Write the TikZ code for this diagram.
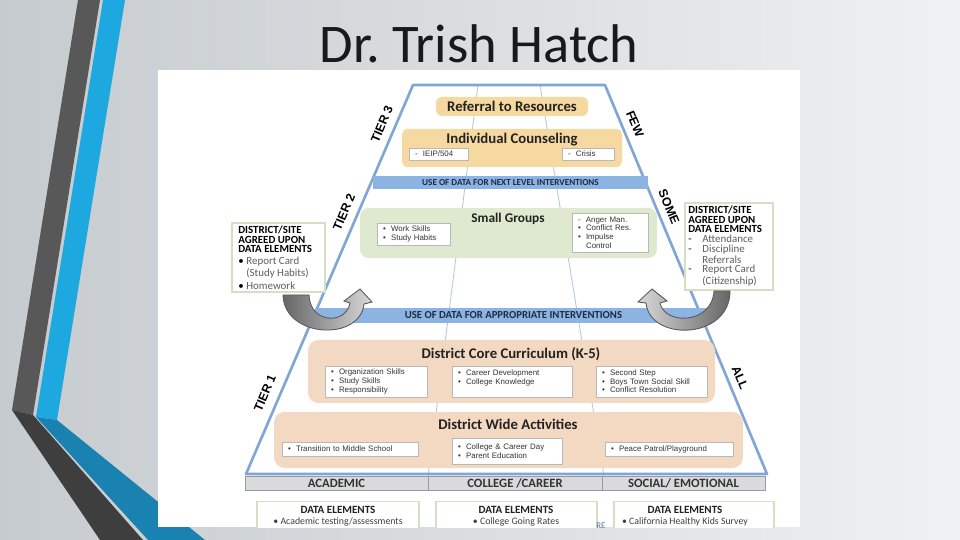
\documentclass[tikz,border=0pt]{standalone}
\usepackage{fontspec}
\setmainfont{Carlito}
\newfontfamily\arialfont{Liberation Sans}
\usetikzlibrary{positioning}
\frenchspacing

\newdimen\pxu \pxu=0.02cm

\definecolor{bgleft}{RGB}{198,203,207}
\definecolor{bgright}{RGB}{239,241,242}
\definecolor{stripegray}{RGB}{88,88,88}
\definecolor{stripedark}{RGB}{62,62,62}
\definecolor{stripeblue}{RGB}{30,168,224}
\definecolor{stripedeep}{RGB}{26,130,176}
\definecolor{pyrline}{RGB}{128,166,214}
\definecolor{bandblue}{RGB}{140,180,226}
\definecolor{bandtext}{RGB}{30,42,70}
\definecolor{goldbox}{RGB}{245,217,160}
\definecolor{greenbox}{RGB}{222,233,207}
\definecolor{peachbox}{RGB}{243,216,194}
\definecolor{barfill}{RGB}{216,218,221}
\definecolor{sideline}{RGB}{214,222,196}
\definecolor{itemgray}{RGB}{95,95,95}
\definecolor{titletext}{RGB}{34,34,34}

\newcommand{\slidetitle}{\fontsize{31}{36}\selectfont}
\newcommand{\boxhead}{\fontsize{8.4}{10}\selectfont\bfseries}
\newcommand{\itemtext}{\arialfont\fontsize{4.5}{4.9}\selectfont}
\newcommand{\tierlabel}{\arialfont\fontsize{7}{8}\selectfont\bfseries}
\newcommand{\calltext}{\fontsize{6.2}{5.3}\selectfont}
\newcommand{\barlabel}{\fontsize{7.2}{8}\selectfont\bfseries}
\newcommand{\sidemark}[2]{\makebox[#1][l]{#2}}

\tikzset{
  tierbox/.style={rounded corners=3pt, inner sep=0pt},
  boxtitle/.style={font=\boxhead, text=titletext, inner sep=0pt, anchor=base},
  subbox/.style={draw=black!28, fill=white, inner xsep=6\pxu, inner ysep=0pt,
    align=left, font=\itemtext, text=black!80},
  databand/.style={fill=bandblue, inner sep=0pt, text=bandtext},
  tier/.style={font=\tierlabel, inner sep=0pt},
  sidebox/.style={draw=sideline, fill=white, line width=0.6pt, inner sep=0pt},
  sidetext/.style={font=\calltext, align=left, inner sep=0pt, anchor=north west},
  colhead/.style={draw=black!40, fill=barfill, inner sep=0pt, minimum height=14\pxu,
    font=\barlabel, text=black!80},
  datacell/.style={draw=sideline, fill=white, line width=0.6pt, inner sep=0pt, anchor=north},
  datahead/.style={font=\fontsize{6.3}{7}\selectfont\bfseries, text=titletext, inner sep=0pt, anchor=base},
  dataitem/.style={font=\fontsize{5.6}{6}\selectfont, text=black!75, inner sep=0pt, anchor=base}
}

\begin{document}
\begin{tikzpicture}[x=1\pxu, y=-1\pxu]
% slide
\shade[left color=bgleft, right color=bgright] (0,0) rectangle (960,540);
\useasboundingbox (0,0) rectangle (960,540);

% side stripes
\fill[stripegray] (78,0) -- (100,0) -- (33,415) -- (12,410) -- cycle;
\fill[stripedark] (12,410) -- (33,415) -- (143,540) -- (100,540) -- cycle;
\fill[stripeblue] (103,0) -- (125,0) -- (57,420) -- (36,417) -- cycle;
\fill[stripedeep] (36,417) -- (57,420) -- (205,540) -- (148,540) -- cycle;

% picture panel
\fill[white] (158,70) rectangle (800,527);
\node[font=\slidetitle, text=black!90, anchor=base, inner sep=0pt] (title) at (479,63) {Dr. Trish Hatch};

% pyramid frame
\coordinate (topL) at (413,85);
\coordinate (topR) at (605,85);
\coordinate (baseL) at (246,474);
\coordinate (baseR) at (767,474);
\draw[pyrline!60, line width=0.5pt] (478,85) -- (428,476) (540,85) -- (604,476);
\draw[pyrline, line width=1.5pt, line join=round] (baseL) -- (topL) -- (topR) -- (baseR) -- cycle;

% tier 3
\node[tierbox, fill=goldbox, minimum width=152\pxu, minimum height=19\pxu] (referral) at (512,106.5) {};
\node[boxtitle] (referralT) at (512,112) {Referral to Resources};
\node[tierbox, fill=goldbox, minimum width=220\pxu, minimum height=38\pxu] (counsel) at (512,148) {};
\node[boxtitle] (counselT) at (512,144) {Individual Counseling};
\node[subbox, text width=47\pxu, minimum height=12\pxu] (iep) at (438.5,154) {-~~IEIP/504};
\node[subbox, text width=40\pxu, minimum height=12\pxu] (crisis) at (588,154) {-~~Crisis};
\node[databand, minimum width=275\pxu, minimum height=13\pxu, font=\fontsize{5.2}{6}\selectfont\bfseries] (nextband) at (510.5,182.5) {USE OF DATA FOR NEXT LEVEL INTERVENTIONS};

% tier 2
\node[tierbox, fill=greenbox, rounded corners=5pt, minimum width=297\pxu, minimum height=50\pxu] (groups) at (508.5,233) {};
\node[boxtitle, font=\fontsize{7.6}{9}\selectfont\bfseries] (groupsT) at (508,223) {Small Groups};
\node[subbox, text width=61\pxu, minimum height=22\pxu] (skills) at (413.5,234) {\textbullet~~Work Skills\\\textbullet~~Study Habits};
\node[subbox, text width=64\pxu, minimum height=39\pxu] (behavior) at (610,232.5) {-~~Anger Man.\\\textbullet~~Conflict Res.\\\textbullet~~Impulse\\\phantom{\textbullet~~}Control};
\node[databand, minimum width=397\pxu, minimum height=15\pxu, font=\fontsize{6.1}{7}\selectfont\bfseries] (apprband) at (513.5,315.5) {USE OF DATA FOR APPROPRIATE INTERVENTIONS};

% district / site data elements
\node[sidebox, minimum width=93\pxu, minimum height=69\pxu] (siteL) at (278.5,257.5) {};
\node[sidetext] (siteLT) at (238,226) {\textbf{DISTRICT/SITE}\\\textbf{AGREED UPON}\\\textbf{DATA ELEMENTS}\\[1.6pt]
  \sidemark{4.6pt}{\textbullet}\textcolor{itemgray}{Report Card}\\
  \hspace*{4.6pt}\textcolor{itemgray}{(Study Habits)}\\[1.2pt]
  \sidemark{4.6pt}{\textbullet}\textcolor{itemgray}{Homework}};
\node[sidebox, minimum width=88\pxu, minimum height=87\pxu] (siteR) at (729,246.5) {};
\node[sidetext] (siteRT) at (688,206) {\textbf{DISTRICT/SITE}\\\textbf{AGREED UPON}\\\textbf{DATA ELEMENTS}\\[0.6pt]
  \sidemark{8pt}{-}\textcolor{itemgray}{Attendance}\\
  \sidemark{8pt}{-}\textcolor{itemgray}{Discipline}\\
  \hspace*{8pt}\textcolor{itemgray}{Referrals}\\
  \sidemark{8pt}{-}\textcolor{itemgray}{Report Card}\\
  \hspace*{8pt}\textcolor{itemgray}{(Citizenship)}};

% u-turn arrows
\shadedraw[left color=black!60, right color=black!15, draw=black!65, line width=0.5pt]
  (283,295) .. controls (284,338) and (360,342) .. (364,304) -- (372,302) -- (360,289)
  -- (344,301) -- (350,303) .. controls (346,325) and (310,324) .. (309,295) -- cycle;
\shadedraw[left color=black!15, right color=black!60, draw=black!65, line width=0.5pt]
  (730,291) .. controls (730,340) and (650,342) .. (646,303) -- (638,302) -- (652,289)
  -- (667,301) -- (660,303) .. controls (664,325) and (712,325) .. (714,291) -- cycle;

% tier 1
\node[tierbox, fill=peachbox, rounded corners=6pt, minimum width=407\pxu, minimum height=63\pxu] (core) at (511.5,371.5) {};
\node[boxtitle] (coreT) at (511,358) {District Core Curriculum (K-5)};
\node[subbox, text width=90\pxu, minimum height=31\pxu] (orgskills) at (376,381.5) {\textbullet~~Organization Skills\\\textbullet~~Study Skills\\\textbullet~~Responsibility};
\node[subbox, text width=108\pxu, minimum height=31\pxu] (collegeprep) at (512,381.5) {\textbullet~~Career Development\\\textbullet~~College Knowledge\\~};
\node[subbox, text width=99\pxu, minimum height=31\pxu] (socialskills) at (651.5,381.5) {\textbullet~~Second Step\\\textbullet~~Boys Town Social Skill\\\textbullet~~Conflict Resolution};
\node[tierbox, fill=peachbox, rounded corners=6pt, minimum width=469\pxu, minimum height=56\pxu] (wide) at (508.5,440) {};
\node[boxtitle] (wideT) at (508,429) {District Wide Activities};
\node[subbox, text width=124\pxu, minimum height=14\pxu] (transition) at (350,449) {\textbullet~~Transition to Middle School};
\node[subbox, text width=98\pxu, minimum height=26\pxu] (careerday) at (507,451) {\textbullet~~College \& Career Day\\\textbullet~~Parent Education};
\node[subbox, text width=116\pxu, minimum height=14\pxu] (peace) at (669,449) {\textbullet~~Peace Patrol/Playground};

% tier labels
\node[tier, rotate=67] (tier3) at (382,124) {TIER 3};
\node[tier, rotate=-67] (few) at (635,124) {FEW};
\node[tier, rotate=67] (tier2) at (344,212) {TIER 2};
\node[tier, rotate=-67] (some) at (669,207) {SOME};
\node[tier, rotate=67] (tier1) at (265,393) {TIER 1};
\node[tier, rotate=-67] (all) at (740,378) {ALL};

% domains
\node[colhead, minimum width=183\pxu] (academic) at (336.5,483) {ACADEMIC};
\node[colhead, minimum width=174\pxu] (career) at (515,483) {COLLEGE /CAREER};
\node[colhead, minimum width=163\pxu] (social) at (683.5,483) {SOCIAL/ EMOTIONAL};

\begin{scope}
\clip (158,70) rectangle (800,527);
\node[datacell, minimum width=162\pxu, minimum height=40\pxu] (dataA) at (338,501) {};
\node[datacell, minimum width=161\pxu, minimum height=40\pxu] (dataB) at (516.5,501) {};
\node[datacell, minimum width=160\pxu, minimum height=40\pxu] (dataC) at (694,501) {};
\node[datahead] (dataAT) at (338,513) {DATA ELEMENTS};
\node[datahead] (dataBT) at (516,513) {DATA ELEMENTS};
\node[datahead] (dataCT) at (685,513) {DATA ELEMENTS};
\node[dataitem] (dataAI) at (338,524.5) {\textbullet\ Academic testing/assessments};
\node[dataitem] (dataBI) at (516,524.5) {\textbullet\ College Going Rates};
\node[dataitem] (dataCI) at (685,524.5) {\textbullet\ California Healthy Kids Survey};
\node[font=\fontsize{5}{5}\selectfont, text=pyrline!70!black, inner sep=0pt, anchor=base] (re) at (601,528) {RE};
\end{scope}
\end{tikzpicture}
\end{document}
